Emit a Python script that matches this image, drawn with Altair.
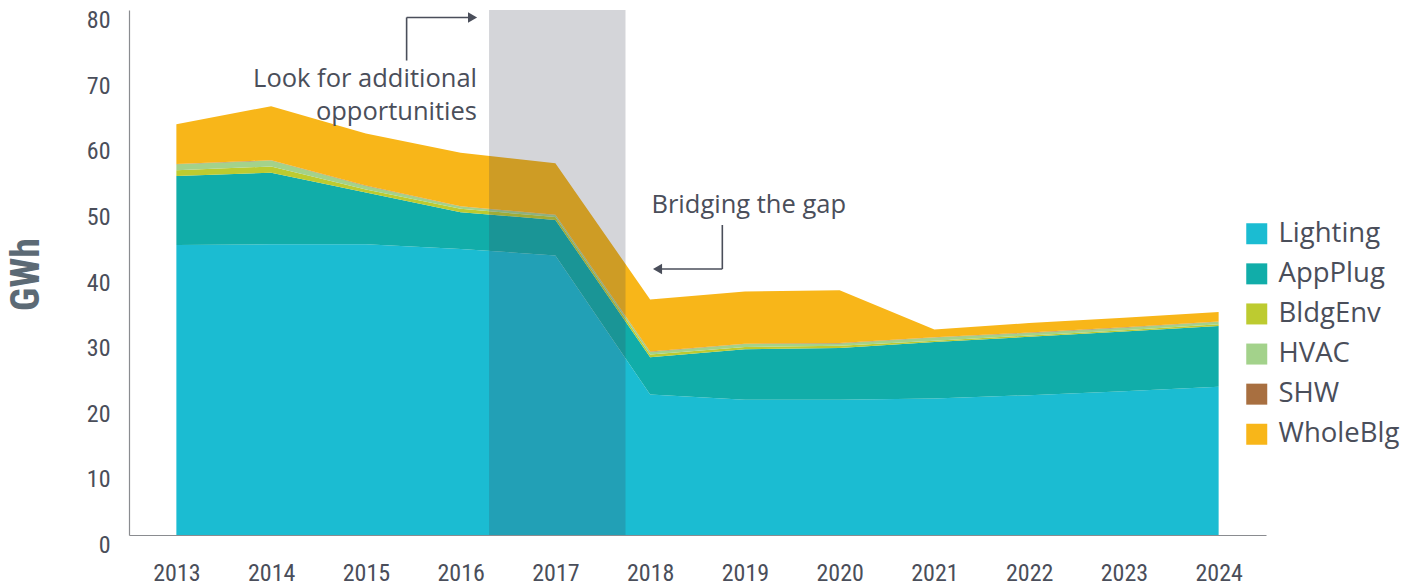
import altair as alt
import pandas as pd

# ---------------- data ----------------
years = [2013, 2014, 2015, 2016, 2017, 2018, 2019, 2020, 2021, 2022, 2023, 2024]
categories = ["Lighting", "AppPlug", "BldgEnv", "HVAC", "SHW", "WholeBlg"]
colors = ["#1bbcd2", "#11ada9", "#bdcb30", "#a3d28b", "#a86f40", "#f8b619"]

lighting = [44.2, 44.3, 44.3, 43.6, 42.6, 21.4, 20.6, 20.6, 20.8, 21.3, 21.9, 22.6]
appplug = [10.5, 10.9, 7.9, 5.6, 5.4, 5.7, 7.7, 7.9, 8.6, 8.9, 9.1, 9.25]
bldgenv = [0.9, 0.95, 0.45, 0.5, 0.45, 0.4, 0.35, 0.35, 0.2, 0.2, 0.2, 0.25]
hvac = [0.9, 0.9, 0.55, 0.35, 0.3, 0.4, 0.45, 0.35, 0.5, 0.4, 0.4, 0.4]
shw = [0.05, 0.05, 0.05, 0.05, 0.05, 0.05, 0.05, 0.05, 0.05, 0.05, 0.05, 0.05]
wholeblg = [6.05, 8.25, 7.95, 8.15, 7.85, 7.95, 7.95, 8.05, 1.15, 1.45, 1.45, 1.45]

y_ticks = [0, 10, 20, 30, 40, 50, 60, 70, 80]

# highlighted period (grey band), in years
band_start = [2016.3]
band_end = [2017.74]

# annotation texts (data coordinates: year, GWh)
note_right_text = ["Look for additional", "opportunities"]
note_right_x = [2016.173, 2016.173]
note_right_y = [68.27, 63.2]
note_left_text = ["Bridging the gap"]
note_left_x = [2018.014]
note_left_y = [49.11]

# elbow arrows
seg_x = [2015.43, 2015.43, 2018.762, 2018.762]
seg_y = [72.3, 78.86, 47.24, 40.53]
seg_x2 = [2015.43, 2016.10, 2018.762, 2018.104]
seg_y2 = [78.86, 78.86, 40.53, 40.53]
head_x = [2016.126, 2018.078]
head_y = [78.86, 40.53]
head_shape = ["triangle-right", "triangle-left"]

# ---------------- tables ----------------
series = [lighting, appplug, bldgenv, hvac, shw, wholeblg]
rows = []
for ci, (cat, vals) in enumerate(zip(categories, series)):
    for yr, v in zip(years, vals):
        rows.append({"year": yr, "category": cat, "gwh": v, "ord": ci})
df = pd.DataFrame(rows)

band_df = pd.DataFrame({"x": band_start, "x2": band_end, "y": [0], "y2": [80]})
seg_df = pd.DataFrame({"x": seg_x, "y": seg_y, "x2": seg_x2, "y2": seg_y2})
head_df = pd.DataFrame({"x": head_x, "y": head_y, "shape": head_shape})
nr_df = pd.DataFrame({"x": note_right_x, "y": note_right_y, "t": note_right_text})
nl_df = pd.DataFrame({"x": note_left_x, "y": note_left_y, "t": note_left_text})

# ---------------- styling ----------------
TEXT = "#4a4e5a"
AXIS_FONT = "Liberation Sans Narrow, Roboto Condensed, Roboto, sans-serif"
NOTE_FONT = "Open Sans"

x_scale = alt.Scale(domain=[2012.5, 2024.5], nice=False, zero=False)
y_scale = alt.Scale(domain=[0, 80], nice=False)

x_axis = alt.Axis(
    values=years, format="d", title=None, ticks=False, tickSize=0, grid=False,
    labelFont=AXIS_FONT, labelFontSize=24, labelColor=TEXT, labelPadding=26,
    domainColor="#8a8c90", domainWidth=1.2, labelFlush=False,
)
y_axis = alt.Axis(
    values=y_ticks, title="GWh", ticks=False, tickSize=0, grid=False,
    labelFont=AXIS_FONT, labelFontSize=24, labelColor=TEXT, labelPadding=19,
    labelOffset=10.5, domainColor="#8a8c90", domainWidth=1.2,
    titleFont=AXIS_FONT, titleFontSize=40, titleFontWeight="bold",
    titleColor="#5c6a75", titleX=-103, titleY=264, titleAngle=270,
    titleAlign="center", titleBaseline="middle",
)

areas = alt.Chart(df).mark_area(interpolate="linear").encode(
    x=alt.X("year:Q", scale=x_scale, axis=x_axis),
    y=alt.Y("gwh:Q", stack="zero", scale=y_scale, axis=y_axis),
    color=alt.Color(
        "category:N",
        scale=alt.Scale(domain=categories, range=colors),
        legend=alt.Legend(
            title=None, orient="none", legendX=1114, legendY=210,
            symbolType="square", symbolSize=441, symbolStrokeWidth=0,
            labelFont=NOTE_FONT, labelFontSize=27.5, labelColor=TEXT,
            rowPadding=11.1, labelOffset=8, padding=0,
        ),
    ),
    order=alt.Order("ord:Q", sort="ascending"),
)

band = alt.Chart(band_df).mark_rect(color="#3d4250", opacity=0.22).encode(
    x=alt.X("x:Q", scale=x_scale, axis=x_axis),
    x2="x2:Q",
    y=alt.Y("y:Q", scale=y_scale, axis=y_axis),
    y2="y2:Q",
)

segs = alt.Chart(seg_df).mark_rule(color=TEXT, strokeWidth=1.6).encode(
    x=alt.X("x:Q", scale=x_scale, axis=x_axis),
    x2="x2:Q",
    y=alt.Y("y:Q", scale=y_scale, axis=y_axis),
    y2="y2:Q",
)

heads = alt.Chart(head_df).mark_point(filled=True, color=TEXT, size=110, opacity=1).encode(
    x=alt.X("x:Q", scale=x_scale, axis=x_axis),
    y=alt.Y("y:Q", scale=y_scale, axis=y_axis),
    shape=alt.Shape("shape:N", scale=None),
)

notes_r = alt.Chart(nr_df).mark_text(
    align="right", baseline="alphabetic", font=NOTE_FONT, fontSize=25.5, color=TEXT
).encode(
    x=alt.X("x:Q", scale=x_scale, axis=x_axis),
    y=alt.Y("y:Q", scale=y_scale, axis=y_axis),
    text="t:N",
)

notes_l = alt.Chart(nl_df).mark_text(
    align="left", baseline="alphabetic", font=NOTE_FONT, fontSize=25.5, color=TEXT
).encode(
    x=alt.X("x:Q", scale=x_scale, axis=x_axis),
    y=alt.Y("y:Q", scale=y_scale, axis=y_axis),
    text="t:N",
)

chart = alt.layer(areas, band, segs, heads, notes_r, notes_l).properties(
    width=1137,
    height=525,
    autosize="none",
    padding={"left": 121, "top": 2, "right": 145, "bottom": 52},
    background="white",
).configure_view(stroke=None)

chart.save("out.html", embed_options={"renderer": "svg", "actions": False})
